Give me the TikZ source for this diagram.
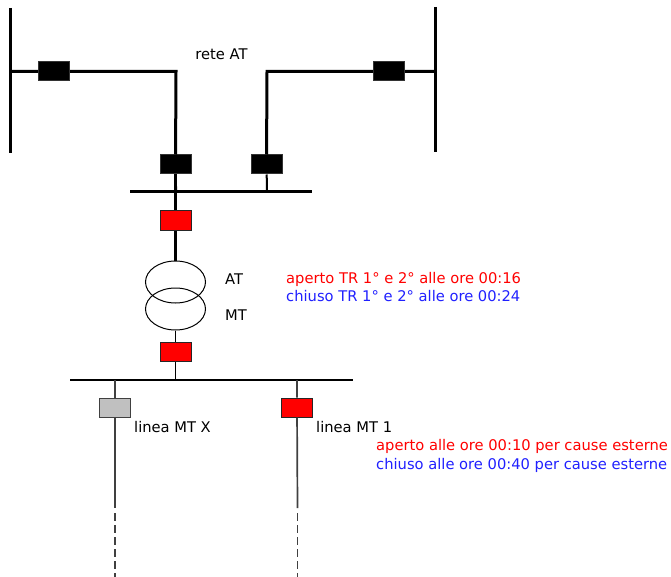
\documentclass[tikz,border=0pt]{standalone}
\usepackage{fontspec}
\setmainfont{DejaVu Sans}
\usetikzlibrary{shapes.geometric}
\definecolor{myred}{RGB}{255,0,0}
\definecolor{myblue}{RGB}{32,32,255}
\definecolor{linegray}{RGB}{64,64,64}
\definecolor{boxgray}{RGB}{192,192,192}
\begin{document}
\begin{tikzpicture}[x=1pt,y=-1pt,
  brk/.style={rectangle,minimum width=31pt,minimum height=19pt,inner sep=0pt,line width=1pt},
  blackbrk/.style={brk,fill=black,draw=black!80},
  redbrk/.style={brk,fill=myred,draw=black!85},
  graybrk/.style={brk,fill=boxgray,draw=linegray},
  thickline/.style={line width=3pt,black},
  thinline/.style={line width=1.7pt,linegray},
  winding/.style={ellipse,draw=black,line width=1pt,minimum width=60pt,minimum height=42pt,inner sep=0pt},
  lbl/.style={anchor=base west,inner sep=0pt,font=\fontsize{14.7}{17}\selectfont},
]
\useasboundingbox (0,0) rectangle (671,577);
% HV buses
\coordinate (LBt) at (10,8);
\coordinate (LBb) at (10,153);
\coordinate (RBt) at (435,7);
\coordinate (RBb) at (435,152);
\draw[thickline] (LBt) -- (LBb);
\draw[thickline] (RBt) -- (RBb);
% left feeder
\coordinate (LJ) at (10,71.5);
\coordinate (LC) at (176,71.5);
\node[blackbrk] (B1) at (54,71.5) {};
\node[blackbrk] (B2) at (175.5,164.5) {};
\draw[thickline] (LJ) -- (B1) -- (LC) -- (B2);
% right feeder
\coordinate (RJ) at (435,71.5);
\coordinate (RC) at (267,71.5);
\node[blackbrk] (B3) at (389,71.5) {};
\node[blackbrk] (B4) at (266.5,164.5) {};
\draw[thickline] (RJ) -- (B3) -- (RC) -- (B4);
% HV busbar
\coordinate (BBl) at (130,192);
\coordinate (BBr) at (312,192);
\coordinate (BB1) at (176,192);
\coordinate (BB2) at (267,192);
\draw[thickline] (BBl) -- (BBr);
\draw[line width=2.2pt,black] (B2) -- (BB1);
\draw[line width=2pt,black] (B4) -- (BB2);
% transformer
\node[redbrk] (R1) at (175.5,220.5) {};
\node[winding] (W1) at (175.5,282) {};
\node[winding] (W2) at (175.5,309) {};
\draw[thickline] (B2) -- (R1);
\draw[thickline] (R1) -- (W1.north);
\node[redbrk] (R2) at (175.5,351.5) {};
\draw[line width=1.2pt,black] (W2.south) -- (R2);
% MV busbar
\coordinate (MBl) at (70,380);
\coordinate (MBr) at (353,380);
\coordinate (MB0) at (175.5,380);
\coordinate (MB1) at (115,380);
\coordinate (MB2) at (297,380);
\draw[line width=1.5pt,black] (MBl) -- (MBr);
\draw[line width=1.4pt,black] (R2) -- (MB0);
% MV lines
\node[graybrk] (G1) at (115,407.5) {};
\node[redbrk] (R3) at (297,407.5) {};
\coordinate (E1) at (115,508);
\coordinate (D1) at (115,513);
\coordinate (F1) at (115,577);
\coordinate (E2) at (297.5,508);
\coordinate (D2) at (297.5,513);
\coordinate (F2) at (297.5,577);
\draw[thinline] (MB1) -- (G1) -- (E1);
\draw[thinline] (MB2) -- (R3) -- (E2);
\draw[thinline,dash pattern=on 8pt off 4pt] (D1) -- (F1);
\draw[thinline,dash pattern=on 8pt off 4pt] (D2) -- (F2);
% labels
\node[lbl,anchor=base] (tRete) at (221.5,60) {rete AT};
\node[lbl] (tAT) at (225,284) {AT};
\node[lbl] (tMT) at (225,320) {MT};
\node[lbl,text=myred] (tAp1) at (286,283.3) {aperto TR 1° e 2° alle ore 00:16};
\node[lbl,text=myblue] (tCh1) at (286,301.7) {chiuso TR 1° e 2° alle ore 00:24};
\node[lbl] (tLX) at (134,432) {linea MT X};
\node[lbl] (tL1) at (316,432) {linea MT 1};
\node[lbl,text=myred] (tAp2) at (376,450.5) {aperto alle ore 00:10 per cause esterne};
\node[lbl,text=myblue] (tCh2) at (376,469) {chiuso alle ore 00:40 per cause esterne};
\end{tikzpicture}
\end{document}
